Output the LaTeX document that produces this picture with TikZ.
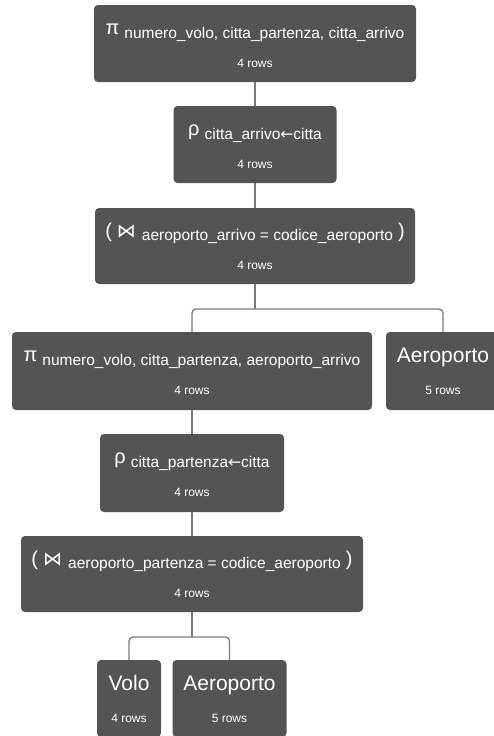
\documentclass[tikz,border=0pt]{standalone}
\usepackage{fontspec}
\setmainfont{Liberation Sans}
\newfontfamily\dvsans{DejaVu Sans}
\usetikzlibrary{calc}
\definecolor{boxfill}{HTML}{545454}
\definecolor{linegray}{HTML}{7A7A7A}
\definecolor{txtcol}{HTML}{FFFFFF}
\tikzset{
  opbox/.style={fill=boxfill, draw=none, rounded corners=4pt, minimum height=77pt, inner sep=0pt, outer sep=0pt},
  conn/.style={draw=linegray, line width=1.3pt},
  maintxt/.style={text=txtcol, anchor=base, inner sep=0pt, font=\fontsize{15.5}{18}\selectfont},
  rowtxt/.style={text=txtcol, anchor=base, inner sep=0pt, font=\fontsize{12}{14}\selectfont},
  tabtxt/.style={text=txtcol, anchor=base, inner sep=0pt, font=\fontsize{21}{24}\selectfont},
}
\newcommand{\opsym}[1]{\raisebox{3.5pt}{\fontsize{20}{20}\selectfont #1}\hspace{5pt}}
\newcommand{\bigparen}[1]{\raisebox{3pt}{\fontsize{20}{20}\selectfont #1}}
\newcommand{\joinsym}{\raisebox{3pt}{\dvsans\fontsize{19}{19}\selectfont ⋈}}
\newcommand{\larr}{{\dvsans ←}}
\begin{document}
\begin{tikzpicture}[x=1pt,y=-1pt]
\useasboundingbox (0,0) rectangle (494,736);
\clip (0,0) rectangle (494,736);

% boxes
\node[opbox, minimum width=322pt] (p1) at (255,43.5) {};
\node[opbox, minimum width=163pt] (r1) at (255,144.5) {};
\node[opbox, minimum width=320pt, minimum height=76pt] (j1) at (255,246) {};
\node[opbox, minimum width=360pt, minimum height=78pt] (p2) at (192,371) {};
\node[opbox, minimum width=114pt, minimum height=78pt] (a1) at (443,371) {};
\node[opbox, minimum width=184pt, minimum height=78pt] (r2) at (192,473) {};
\node[opbox, minimum width=342pt, minimum height=76pt] (j2) at (192,574) {};
\node[opbox, minimum width=64pt] (v) at (129,698.5) {};
\node[opbox, minimum width=114pt] (a2) at (229.5,698.5) {};

% connectors
\draw[conn] (p1.south) -- (r1.north);
\draw[conn] (r1.south) -- (j1.north);
\coordinate (b1) at (255,309);
\draw[conn] (j1.south) -- (b1);
\draw[conn, rounded corners=4pt] (b1) -| (p2.north);
\draw[conn, rounded corners=4pt] (b1) -| (a1.north);
\draw[conn] (p2.south) -- (r2.north);
\draw[conn] (r2.south) -- (j2.north);
\coordinate (b2) at (192,637);
\draw[conn] (j2.south) -- (b2);
\draw[conn, rounded corners=4pt] (b2) -| (v.north);
\draw[conn, rounded corners=4pt] (b2) -| (a2.north);

% texts
\node[maintxt] (p1t) at ($(p1.north)+(0,33)$) {\opsym{π}numero\_volo, citta\_partenza, citta\_arrivo};
\node[rowtxt] (p1r) at ($(p1.north)+(0,62)$) {4 rows};

\node[maintxt] (r1t) at ($(r1.north)+(0,33)$) {\opsym{ρ}citta\_arrivo\larr citta};
\node[rowtxt] (r1r) at ($(r1.north)+(0,62)$) {4 rows};

\node[maintxt] (j1t) at ($(j1.north)+(0,32)$) {\bigparen{(}\hspace{5pt}\joinsym\hspace{6pt}aeroporto\_arrivo = codice\_aeroporto\hspace{5pt}\bigparen{)}};
\node[rowtxt] (j1r) at ($(j1.north)+(0,61)$) {4 rows};

\node[maintxt] (p2t) at ($(p2.north)+(0,33)$) {\opsym{π}numero\_volo, citta\_partenza, aeroporto\_arrivo};
\node[rowtxt] (p2r) at ($(p2.north)+(0,62)$) {4 rows};

\node[tabtxt] (a1t) at ($(a1.north)+(0,30)$) {Aeroporto};
\node[rowtxt] (a1r) at ($(a1.north)+(0,62)$) {5 rows};

\node[maintxt] (r2t) at ($(r2.north)+(0,33)$) {\opsym{ρ}citta\_partenza\larr citta};
\node[rowtxt] (r2r) at ($(r2.north)+(0,62)$) {4 rows};

\node[maintxt] (j2t) at ($(j2.north)+(0,32)$) {\bigparen{(}\hspace{5pt}\joinsym\hspace{6pt}aeroporto\_partenza = codice\_aeroporto\hspace{5pt}\bigparen{)}};
\node[rowtxt] (j2r) at ($(j2.north)+(0,61)$) {4 rows};

\node[tabtxt] (vt) at ($(v.north)+(0,30)$) {Volo};
\node[rowtxt] (vr) at ($(v.north)+(0,62)$) {4 rows};

\node[tabtxt] (a2t) at ($(a2.north)+(0,30)$) {Aeroporto};
\node[rowtxt] (a2r) at ($(a2.north)+(0,62)$) {5 rows};
\end{tikzpicture}
\end{document}
